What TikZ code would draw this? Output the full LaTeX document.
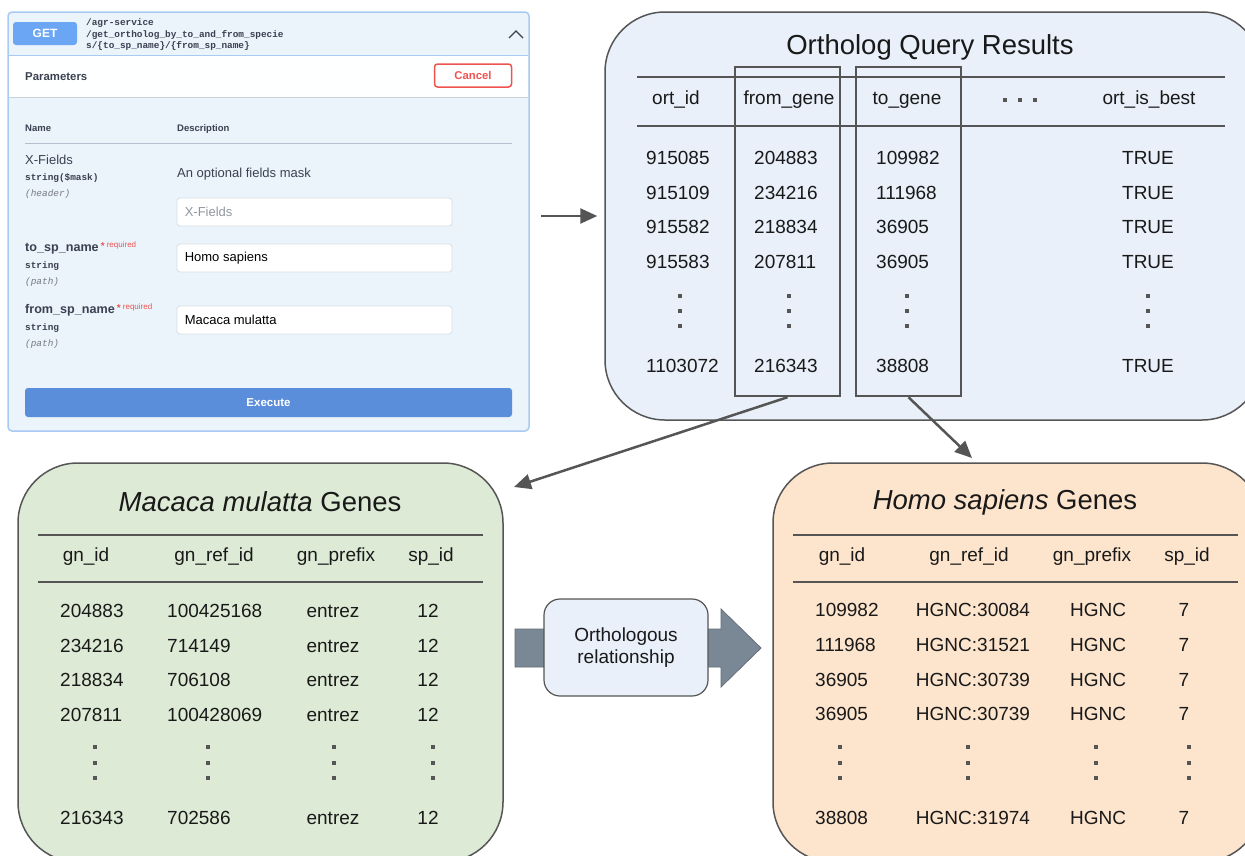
\documentclass[tikz,border=0pt]{standalone}
\usepackage{fontspec}
\setmainfont{Liberation Sans}
\setmonofont{Liberation Mono}
\usetikzlibrary{arrows.meta}
\definecolor{panelbg}{HTML}{EBF3FB}
\definecolor{panelborder}{HTML}{A9CBF3}
\definecolor{getblue}{HTML}{6AA6F4}
\definecolor{execblue}{HTML}{5A8EDB}
\definecolor{cancelred}{HTML}{EF5350}
\definecolor{resbg}{HTML}{E9F0FA}
\definecolor{greenbg}{HTML}{DDEBD6}
\definecolor{peachbg}{HTML}{FCE4CD}
\definecolor{edge}{HTML}{555555}
\definecolor{slate}{HTML}{7A8896}
\definecolor{uitext}{HTML}{3B4151}
\definecolor{inputborder}{HTML}{D9DEE5}
\definecolor{rulegray}{HTML}{B4C0CE}
\tikzset{
  tcell/.style={inner sep=0pt, font=\fontsize{19}{23}\selectfont, text=black!90, anchor=base},
  tcellL/.style={tcell, anchor=base west},
  ttitle/.style={inner sep=0pt, font=\fontsize{27.5}{32}\selectfont, text=black!90, anchor=base},
  bigbox/.style={draw=edge, line width=1.5pt, rounded corners=60pt, inner sep=0pt},
  colbox/.style={draw=edge, line width=2.5pt, inner sep=0pt, minimum width=105pt, minimum height=329pt},
  conn/.style={draw=edge, line width=2.5pt, -{Triangle[length=17pt,width=15pt]}},
  tabrule/.style={draw=edge, line width=1.2pt},
  dotsq/.style={fill=edge},
  ui/.style={inner sep=0pt, text=uitext, anchor=base west},
  uimono/.style={ui, font=\ttfamily\bfseries\fontsize{9.4}{11}\selectfont},
  uimonoit/.style={ui, text=uitext!70, font=\ttfamily\itshape\fontsize{9.4}{11}\selectfont},
  inputbox/.style={draw=inputborder, line width=0.8pt, fill=white, rounded corners=3pt, minimum width=275pt, minimum height=28pt, inner sep=0pt},
  btn/.style={inner sep=0pt, rounded corners=3pt, font=\bfseries\fontsize{11.5}{13}\selectfont},
}
\begin{document}
\begin{tikzpicture}[x=1pt,y=-1pt]
\useasboundingbox (0,0) rectangle (1245,855);
\fill[white] (0,0) rectangle (1245,855);
\clip (0,0) rectangle (1245,855);

% ---------------- API panel ----------------
\node[draw=panelborder, line width=1.5pt, fill=panelbg, rounded corners=4pt, minimum width=521pt, minimum height=419pt, inner sep=0pt] (api) at (268.5,221.5) {};
\fill[white!97!panelbg] (9,55) rectangle (528,97);
\draw[panelborder, line width=0.8pt] (9,55) -- (528,55);
\draw[rulegray!70, line width=1pt] (9,97) -- (528,97);
\node[btn, fill=getblue, text=white, minimum width=64pt, minimum height=23pt, font=\bfseries\fontsize{12}{14}\selectfont] (get) at (45,33.5) {GET};
\node[uimono] (p1) at (86,25) {/agr-service};
\node[uimono] (p2) at (86,37) {/get\_ortholog\_by\_to\_and\_from\_specie};
\node[uimono] (p3) at (86,48.5) {s/\{to\_sp\_name\}/\{from\_sp\_name\}};
\draw[uitext, line width=1.3pt] (509,38) -- (516,31) -- (523,38);
\node[ui, font=\bfseries\fontsize{11.4}{13}\selectfont] (params) at (25,80) {Parameters};
\node[btn, draw=cancelred, line width=1.5pt, fill=white, text=cancelred, minimum width=77pt, minimum height=23pt, font=\bfseries\fontsize{11.3}{13}\selectfont] (cancel) at (473,75.5) {Cancel};
\node[ui, font=\bfseries\fontsize{9.5}{11}\selectfont] (hname) at (25,131.5) {Name};
\node[ui, font=\bfseries\fontsize{9.5}{11}\selectfont] (hdesc) at (177,131.5) {Description};
\draw[rulegray, line width=1pt] (25,143) -- (512,143);
\node[ui, font=\fontsize{13}{15}\selectfont] (xf) at (25,164.5) {X-Fields};
\node[uimono] (xft) at (25,180.5) {string(\$mask)};
\node[uimonoit] (xfh) at (25,196.5) {(header)};
\node[ui, font=\fontsize{13}{15}\selectfont] (xfd) at (177,177.5) {An optional fields mask};
\node[inputbox] (xin) at (314.5,212) {};
\node[ui, text=uitext!55, font=\fontsize{13}{15}\selectfont, anchor=west] (xinv) at ([xshift=8pt]xin.west) {X-Fields};
\node[ui, font=\bfseries\fontsize{12.6}{15}\selectfont] (to) at (25,251.5) {to\_sp\_name\,\textcolor{cancelred}{\raisebox{2pt}{\fontsize{10}{10}\selectfont *}\,\raisebox{4pt}{\mdseries\fontsize{8}{9}\selectfont required}}};
\node[uimono] (tot) at (25,268.5) {string};
\node[uimonoit] (top) at (25,284.5) {(path)};
\node[inputbox] (toin) at (314.5,258) {};
\node[ui, text=black, font=\fontsize{13}{15}\selectfont, anchor=west] (toinv) at ([xshift=8pt]toin.west) {Homo sapiens};
\node[ui, font=\bfseries\fontsize{12.6}{15}\selectfont] (from) at (25,313.5) {from\_sp\_name\,\textcolor{cancelred}{\raisebox{2pt}{\fontsize{10}{10}\selectfont *}\,\raisebox{4pt}{\mdseries\fontsize{8}{9}\selectfont required}}};
\node[uimono] (fromt) at (25,330.5) {string};
\node[uimonoit] (fromp) at (25,346.5) {(path)};
\node[inputbox] (fromin) at (314.5,320) {};
\node[ui, text=black, font=\fontsize{13}{15}\selectfont, anchor=west] (frominv) at ([xshift=8pt]fromin.west) {Macaca mulatta};
\node[btn, fill=execblue, text=white, minimum width=487pt, minimum height=29pt] (exec) at (268.5,402.5) {Execute};

% ---------------- Ortholog Query Results ----------------
\node[bigbox, fill=resbg, minimum width=657pt, minimum height=408pt] (res) at (933.5,216) {};
\node[ttitle] (restitle) at (930,54) {Ortholog Query Results};
\draw[tabrule] (637,77) -- (1225,77);
\draw[tabrule] (637,126) -- (1225,126);
\node[tcell] (h1) at (676,104) {ort\_id};
\node[tcell] (h2) at (789,104) {from\_gene};
\node[tcell] (h3) at (907,104) {to\_gene};
\node[tcell] (h5) at (1149,104) {ort\_is\_best};
\foreach \x in {1005,1020,1035} \fill[dotsq] (\x-2,98) rectangle (\x+2,102);
\foreach \a/\b/\c/\y in {915085/204883/109982/164, 915109/234216/111968/199, 915582/218834/36905/233, 915583/207811/36905/268, 1103072/216343/38808/372} {
  \node[tcellL] (ra\y) at (646,\y) {\a};
  \node[tcellL] (rb\y) at (754,\y) {\b};
  \node[tcellL] (rc\y) at (876,\y) {\c};
  \node[tcell] (rd\y) at (1148,\y) {TRUE};
}
\foreach \x in {680,789,907,1148} \foreach \y in {296,311,326} \fill[dotsq] (\x-2,\y-2) rectangle (\x+2,\y+2);
\node[colbox] (fromcol) at (787.5,231.5) {};
\node[colbox] (tocol) at (908.5,231.5) {};

% ---------------- Macaca mulatta Genes ----------------
\node[bigbox, fill=greenbg, minimum width=485pt, minimum height=399pt] (mac) at (260.5,662.5) {};
\node[ttitle] (mactitle) at (260,511) {\textit{Macaca mulatta} Genes};
\draw[tabrule] (38,535) -- (483,535);
\draw[tabrule] (38,582) -- (483,582);
\node[tcell] (mh1) at (86,561) {gn\_id};
\node[tcell] (mh2) at (214,561) {gn\_ref\_id};
\node[tcell] (mh3) at (336,561) {gn\_prefix};
\node[tcell] (mh4) at (431,561) {sp\_id};
\foreach \a/\b/\y in {204883/100425168/617, 234216/714149/652, 218834/706108/686, 207811/100428069/721, 216343/702586/824} {
  \node[tcellL] (ma\y) at (60,\y) {\a};
  \node[tcellL] (mb\y) at (167,\y) {\b};
  \node[tcell] (mc\y) at (333,\y) {entrez};
  \node[tcell] (md\y) at (428,\y) {12};
}
\foreach \x in {95,208,334,433} \foreach \y in {747,763,778} \fill[dotsq] (\x-2,\y-2) rectangle (\x+2,\y+2);

% ---------------- Homo sapiens Genes ----------------
\node[bigbox, fill=peachbg, minimum width=489pt, minimum height=399pt] (hom) at (1017.5,662.5) {};
\node[ttitle] (homtitle) at (1005,509) {\textit{Homo sapiens} Genes};
\draw[tabrule] (793,535) -- (1238,535);
\draw[tabrule] (793,582) -- (1238,582);
\node[tcell] (hh1) at (842,561) {gn\_id};
\node[tcell] (hh2) at (969,561) {gn\_ref\_id};
\node[tcell] (hh3) at (1092,561) {gn\_prefix};
\node[tcell] (hh4) at (1187,561) {sp\_id};
\foreach \a/\b/\y in {109982/30084/616, 111968/31521/651, 36905/30739/686, 36905/30739/720, 38808/31974/824} {
  \node[tcellL] (ha\y) at (815,\y) {\a};
  \node[tcell] (hb\y) at (973,\y) {HGNC:\b};
  \node[tcell] (hc\y) at (1098,\y) {HGNC};
  \node[tcell] (hd\y) at (1184,\y) {7};
}
\foreach \x in {840,968,1096,1189} \foreach \y in {747,763,778} \fill[dotsq] (\x-2,\y-2) rectangle (\x+2,\y+2);

% ---------------- Orthologous relationship ----------------
\draw[fill=slate, draw=slate!80!black, line width=0.8pt] (515,629) -- (721,629) -- (721,609) -- (761,648) -- (721,687) -- (721,667) -- (515,667) -- cycle;
\node[draw=edge, line width=1.2pt, fill=resbg, rounded corners=16pt, minimum width=164pt, minimum height=97pt, inner sep=0pt, align=center, font=\fontsize{19}{22.5}\selectfont, text=black!90] (ortho) at (626,647.5) {Orthologous\\relationship};

% ---------------- connectors ----------------
\coordinate (macin) at (514,487);
\coordinate (homin) at (972,458);
\draw[conn, shorten <=11pt, shorten >=7pt] (api.east |- res.west) -- (res.west);
\draw[conn] (fromcol.south) -- (macin);
\draw[conn] (tocol.south) -- (homin);
\end{tikzpicture}
\end{document}
